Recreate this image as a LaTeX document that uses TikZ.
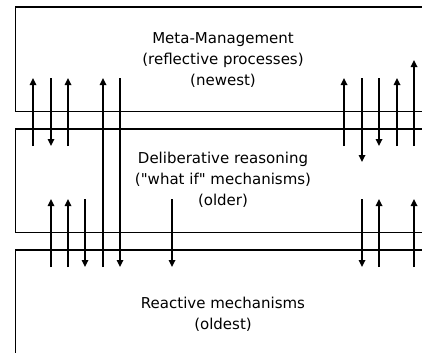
\documentclass[tikz,border=0pt]{standalone}
\usepackage{fontspec}
\setmainfont{DejaVu Sans}[Ligatures=TeXOff]
\usetikzlibrary{arrows.meta}

\begin{document}
\begin{tikzpicture}[x=1pt,y=-1pt,>={Triangle[length=7pt,width=6.5pt]},line width=1.6pt,
    layer/.style={align=center,font=\fontsize{15}{21}\selectfont}]
    \useasboundingbox (0,0) rectangle (422,353);
    % the three layers, open on the right
    \draw (422,7) -- (15.5,7) -- (15.5,111.5) -- (422,111.5);
    \draw (422,129) -- (15.5,129) -- (15.5,232.5) -- (422,232.5);
    \draw (422,250) -- (15.5,250) -- (15.5,353);
    \node[layer] (meta) at (223,60) {Meta-Management\\(reflective processes)\\(newest)};
    \node[layer] (delib) at (223,180) {Deliberative reasoning\\("what if" mechanisms)\\(older)};
    \node[layer] (react) at (223,314.5) {Reactive mechanisms\\(oldest)};
    % between meta-management and deliberative
    \foreach \x in {33,68,344,397}{
      \draw[->] (\x,146) -- (\x,78);
    }
    \draw[->] (414,146) -- (414,60);
    \foreach \x in {51,379}{
      \draw[->] (\x,78) -- (\x,146);
    }
    \draw[->] (362,78) -- (362,162);
    % crossing both gaps
    \draw[->] (103,267) -- (103,78);
    \draw[->] (120,78) -- (120,267);
    % between deliberative and reactive
    \foreach \x in {51,68,379,414}{
      \draw[->] (\x,267) -- (\x,199);
    }
    \foreach \x in {85,172,362}{
      \draw[->] (\x,199) -- (\x,267);
    }
\end{tikzpicture}
\end{document}
